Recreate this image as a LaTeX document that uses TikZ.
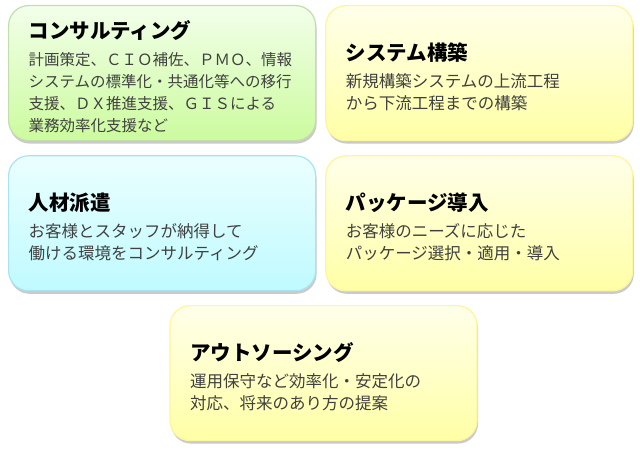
\documentclass[tikz,border=0pt]{standalone}
\usepackage{fontspec}
\setmainfont{Noto Sans CJK JP}
\usepackage{tikz}
\usetikzlibrary{positioning,shadows}

\definecolor{greentop}{HTML}{F2FFEA}
\definecolor{greenbot}{HTML}{CCFB9E}
\definecolor{greenline}{HTML}{C3DDAE}
\definecolor{yellowtop}{HTML}{FFFFEA}
\definecolor{yellowbot}{HTML}{FFFFA6}
\definecolor{yellowline}{HTML}{FFF59A}
\definecolor{cyantop}{HTML}{EBFFFF}
\definecolor{cyanbot}{HTML}{BFFAFF}
\definecolor{cyanline}{HTML}{A9E3F3}
\definecolor{bodygray}{HTML}{404040}

\newcommand{\boxtitle}[1]{{\fontsize{20.5}{24}\selectfont\bfseries\color{black}\rule{0pt}{25pt}#1}\\[5pt]}

\begin{document}
\begin{tikzpicture}[x=1pt,y=1pt,
  card/.style={rounded corners=20pt, line width=1.2pt, minimum width=307pt, minimum height=135pt,
    text width=267pt, inner xsep=20pt, inner ysep=0pt, align=left,
    font=\fontsize{16.5}{22}\selectfont, text=bodygray,
    drop shadow={shadow xshift=1pt, shadow yshift=-3pt, opacity=0.35, fill=black!60}},
  greencard/.style={card, draw=greenline, top color=greentop, bottom color=greenbot,
    font=\fontsize{15.5}{22}\selectfont},
  yellowcard/.style={card, draw=yellowline, top color=yellowtop, bottom color=yellowbot},
  cyancard/.style={card, draw=cyanline, top color=cyantop, bottom color=cyanbot},
  node distance=14pt and 9pt]
  \useasboundingbox (0,0) rectangle (640,-452);

  \node[greencard, anchor=north west] (consulting) at (8,-5)
    {\boxtitle{コンサルティング}計画策定、ＣＩＯ補佐、ＰＭＯ、情報\\システムの標準化・共通化等への移行\\支援、ＤＸ推進支援、ＧＩＳによる\\業務効率化支援など};
  \node[yellowcard, right=of consulting] (system)
    {\boxtitle{システム構築}新規構築システムの上流工程\\から下流工程までの構築};
  \node[cyancard, below=of consulting] (staffing)
    {\boxtitle{人材派遣}お客様とスタッフが納得して\\働ける環境をコンサルティング};
  \node[yellowcard, below=of system] (package)
    {\boxtitle{パッケージ導入}お客様のニーズに応じた\\パッケージ選択・適用・導入};
  \node[yellowcard, anchor=north] (outsourcing) at (323.5,-305)
    {\boxtitle{アウトソーシング}運用保守など効率化・安定化の\\対応、将来のあり方の提案};
\end{tikzpicture}
\end{document}
